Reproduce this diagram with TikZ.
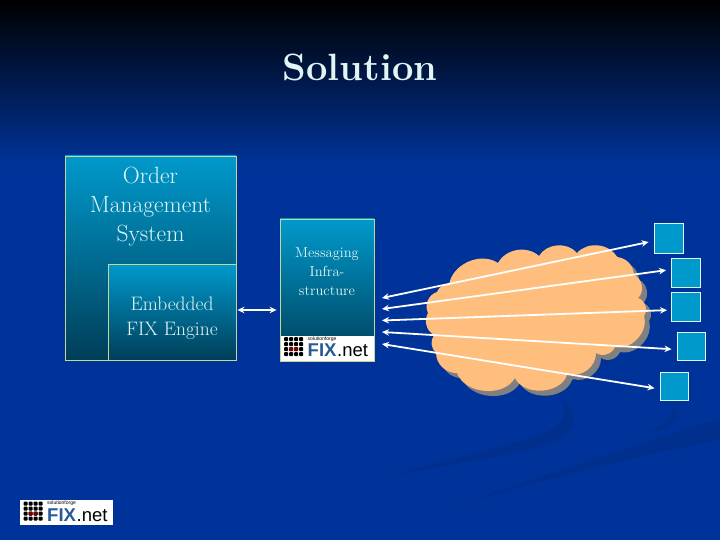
\documentclass[tikz,border=0pt]{standalone}
\usepackage{fontspec}
\usepackage{xcolor}
\usepackage{tikz}
\usetikzlibrary{arrows.meta, positioning, calc}
\newfontfamily\logofont{Liberation Sans}
\definecolor{slideBlue}{RGB}{0, 51, 153}
\definecolor{swooshBlue}{RGB}{0, 47, 142}
\definecolor{boxTop}{RGB}{0, 153, 204}
\definecolor{boxBottom}{RGB}{0, 62, 88}
\definecolor{boxEdge}{RGB}{196, 216, 150}
\definecolor{textPale}{RGB}{225, 245, 245}
\definecolor{cloudFill}{RGB}{255, 190, 125}
\definecolor{cloudShadow}{RGB}{128, 128, 128}
\definecolor{logoBlue}{RGB}{40, 90, 150}
\tikzset{
  gradbox/.style={draw=boxEdge, line width=0.9pt, top color=boxTop, bottom color=boxBottom, inner sep=0pt},
  endbox/.style={draw=textPale, line width=1pt, fill=boxTop, inner sep=0pt},
  boxtext/.style={text=textPale, align=center, inner sep=0pt},
  link/.style={draw=white, line width=1.8pt, >={Stealth[length=7pt,width=6.5pt]}, <->},
  fixlogo/.pic={
    \fill[white] (0,0) rectangle (93,25);
    % dot grid
    \foreach \i in {0,1,2,3} \foreach \j in {0,1,2,3}
      \fill[black, rounded corners=1pt] (3.5+\i*5,1.5+\j*5) rectangle ++(4.2,4.2);
    \fill[red!45!black, rounded corners=1pt] (8.5,11.5) rectangle ++(4.2,4.2);
    \fill[red!45!black, rounded corners=1pt] (13.5,11.5) rectangle ++(4.2,4.2);
    \node[font=\logofont\fontsize{5}{5}\selectfont, text=black, anchor=base west, inner sep=0pt] at (27,4.6) {solutionforge};
    \node[font=\logofont\bfseries\fontsize{18.5}{19}\selectfont, text=logoBlue, anchor=base west, inner sep=0pt] at (27,21) {FIX};
    \node[font=\logofont\fontsize{18.5}{19}\selectfont, text=black, anchor=base west, inner sep=0pt] at (56.5,21) {.net};
  }
}
\begin{document}
\begin{tikzpicture}[x=1pt, y=-1pt]
    \useasboundingbox (0,0) rectangle (720,540);
    % Background
    \fill[slideBlue] (0,0) rectangle (720,540);
    \shade[top color=black, bottom color=slideBlue] (0,0) rectangle (720,165);
    % Swooshes
    \fill[swooshBlue] (387,478) .. controls (450,455) and (530,445) .. (558,425) .. controls (566,418) and (566,408) .. (562,400) .. controls (578,412) and (578,428) .. (558,440) .. controls (520,458) and (450,462) .. (387,478) -- cycle;
    \fill[swooshBlue] (450,508) .. controls (540,475) and (640,445) .. (720,418) -- (720,440) .. controls (640,455) and (540,480) .. (450,508) -- cycle;
    \fill[swooshBlue] (645,434) .. controls (665,425) and (675,420) .. (672,405) .. controls (684,418) and (675,428) .. (645,434) -- cycle;
    % Cloud
    \def\cloudpath{(428,313) to[bend left=50] (437,292) to[bend left=40] (449,285) to[bend left=58] (498,263) to[bend left=52] (539,256) to[bend left=55] (577,253) to[bend left=55] (617,257) to[bend left=40] (634,275) to[bend left=60] (638,298) to[bend left=55] (644,316) to[bend left=60] (615,347) to[bend left=50] (596,353) to[bend left=55] (568,374) to[bend left=30] (567,375) to[bend left=68] (515,378) to[bend left=65] (457,373) to[bend left=45] (436,353) to[bend left=40] (434,335) to[bend left=45] (428,313) -- cycle}
    \begin{scope}[shift={(5,5)}]
      \fill[cloudShadow] \cloudpath;
    \end{scope}
    \fill[cloudFill] \cloudpath;
    % Order management box
    \node[gradbox, minimum width=171pt, minimum height=204pt] (oms) at (150.5,258) {};
    \node[boxtext, font=\fontsize{23.5}{29}\selectfont, below=11pt of oms.north] (omsText) {Order\\Management\\System};
    \node[gradbox, minimum width=128pt, minimum height=96pt] (engine) at (172,312) {};
    \node[boxtext, font=\fontsize{19.5}{25}\selectfont] (engineText) at (172,318) {Embedded\\FIX Engine};
    % Messaging box
    \node[gradbox, minimum width=94pt, minimum height=142pt] (msg) at (327,290) {};
    \node[boxtext, font=\fontsize{14.5}{19}\selectfont] (msgText) at (327,272) {Messaging\\Infra-\\structure};
    \pic at (280.5,335.5) {fixlogo};
    \pic at (20,500) {fixlogo};
    % End boxes
    \node[endbox, minimum size=29pt] (boxA) at (668.5,238.5) {};
    \node[endbox, minimum size=29pt] (boxB) at (686,272.5) {};
    \node[endbox, minimum size=29pt] (boxC) at (686,306.5) {};
    \node[endbox, minimum size=28pt] (boxD) at (691,346) {};
    \node[endbox, minimum size=28pt] (boxE) at (674,386) {};
    % Ports beside messaging box
    \coordinate (portA) at (382,298);
    \coordinate (portB) at (382,309);
    \coordinate (portC) at (382,320.5);
    \coordinate (portD) at (382,332);
    \coordinate (portE) at (382,344);
    % Links
    \draw[link, shorten <=1pt, shorten >=3pt] ([yshift=2pt]engine.east) -- ([yshift=2pt]engine.east -| msg.west);
    \draw[link, shorten >=5pt] (portA) -- ([yshift=-2.5pt]boxA.west);
    \draw[link, shorten >=5pt] (portB) -- ([yshift=3pt]boxB.west);
    \draw[link, shorten >=4pt] (portC) -- ([yshift=-3.5pt]boxC.west);
    \draw[link, shorten >=5pt] (portD) -- ([yshift=-3.5pt]boxD.west);
    \draw[link, shorten >=5pt] (portE) -- ([yshift=-3pt]boxE.west);
    % Title
    \node[font=\bfseries\fontsize{38}{38}\selectfont, text=textPale] (title) at (360,67) {Solution};
\end{tikzpicture}
\end{document}
